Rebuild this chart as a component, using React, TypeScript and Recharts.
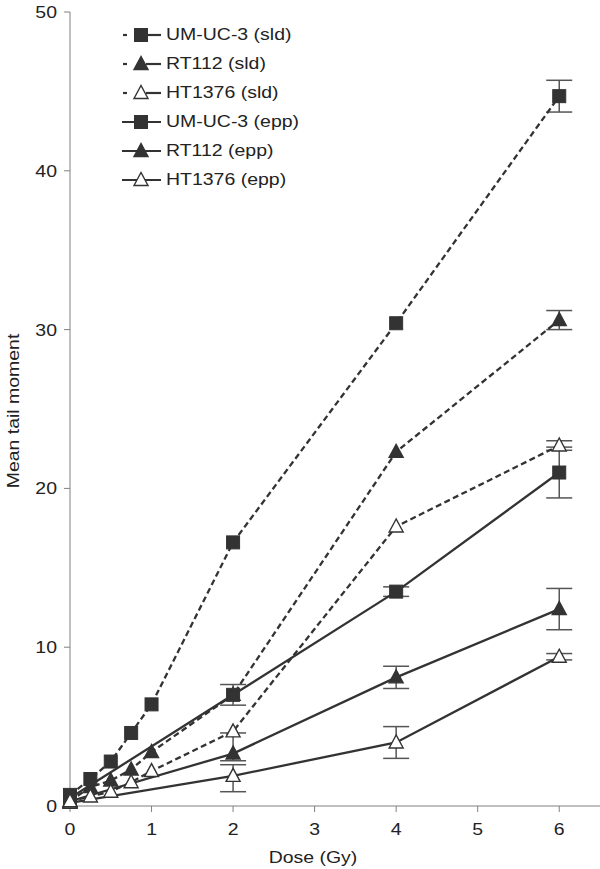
import React from 'react';
import { LineChart, Line, XAxis, YAxis, Legend, ErrorBar } from 'recharts';

// doses (Gy)
const sldDoses = [0, 0.25, 0.5, 0.75, 1, 2, 4, 6];
const eppDoses = [0, 2, 4, 6];

// mean tail moment values (error = SEM, number or [below, above])
const umucSld = [0.7, 1.7, 2.8, 4.6, 6.4, 16.6, 30.4, 44.7];
const umucSldErr = [0, 0, 0, 0, 0, 0, 0, 1.0];
const rt112Sld = [0.3, 1.2, 1.6, 2.3, 3.4, 7.0, 22.3, 30.6];
const rt112SldErr = [0, 0, 0, 0, 0, 0, 0, 0.6];
const ht1376Sld = [0.3, 0.6, 0.9, 1.5, 2.2, 4.7, 17.6, 22.7];
const ht1376SldErr = [0, 0, 0, 0, 0, 0, 0, 0.3];

const umucEpp = [0.5, 7.0, 13.5, 21.0];
const umucEppErr: (number | number[])[] = [0, 0.65, 0.3, 1.6];
const rt112Epp = [0.3, 3.3, 8.1, 12.4];
const rt112EppErr: (number | number[])[] = [0, [0.45, 1.3], 0.7, 1.3];
const ht1376Epp = [0.2, 1.9, 4.0, 9.4];
const ht1376EppErr: (number | number[])[] = [0, [1.0, 0.7], 1.0, 0.2];

const xTicks = [0, 1, 2, 3, 4, 5, 6];
const yTicks = [0, 10, 20, 30, 40, 50];

type Shape = 'square' | 'triangle' | 'openTriangle';

const makeSeries = (doses: number[], values: number[], errs: (number | number[])[]) =>
  doses.map((d, i) => ({ dose: d, value: values[i], err: errs[i] }));

const series = [
  { name: 'UM-UC-3 (sld)', data: makeSeries(sldDoses, umucSld, umucSldErr), shape: 'square' as Shape, dashed: true },
  { name: 'RT112 (sld)', data: makeSeries(sldDoses, rt112Sld, rt112SldErr), shape: 'triangle' as Shape, dashed: true },
  { name: 'HT1376 (sld)', data: makeSeries(sldDoses, ht1376Sld, ht1376SldErr), shape: 'openTriangle' as Shape, dashed: true },
  { name: 'UM-UC-3 (epp)', data: makeSeries(eppDoses, umucEpp, umucEppErr), shape: 'square' as Shape, dashed: false },
  { name: 'RT112 (epp)', data: makeSeries(eppDoses, rt112Epp, rt112EppErr), shape: 'triangle' as Shape, dashed: false },
  { name: 'HT1376 (epp)', data: makeSeries(eppDoses, ht1376Epp, ht1376EppErr), shape: 'openTriangle' as Shape, dashed: false },
];

// draw the solid (epp) series first so the dashed series' markers sit on top
const drawOrder = [...series.slice(3), ...series.slice(0, 3)];

const INK = '#333333';
const AXIS = '#808080';
const FONT = '"Liberation Sans", Arial, sans-serif';
const FONT_SIZE = 16.5;
const STRETCH = 1.18;

const Marker = ({ cx, cy, shape }: { cx: number; cy: number; shape: Shape }) => {
  if (cx == null || cy == null) return null;
  if (shape === 'square') {
    return <rect x={cx - 6.5} y={cy - 6.5} width={13} height={13} fill={INK} stroke={INK} strokeWidth={1} />;
  }
  const pts = `${cx},${cy - 7.5} ${cx - 7},${cy + 5.5} ${cx + 7},${cy + 5.5}`;
  return (
    <polygon
      points={pts}
      fill={shape === 'triangle' ? INK : '#ffffff'}
      stroke={INK}
      strokeWidth={1.4}
    />
  );
};

const YTick = (props: any) => {
  const { x, y, payload } = props;
  return (
    <text
      transform={`translate(${x - 5},${y}) scale(${STRETCH},1)`}
      textAnchor="end"
      dy={6}
      fontFamily={FONT}
      fontSize={FONT_SIZE}
      fill="#222"
    >
      {payload.value}
    </text>
  );
};

const XTick = (props: any) => {
  const { x, y, payload } = props;
  return (
    <text
      transform={`translate(${x},${y + 21}) scale(${STRETCH},1)`}
      textAnchor="middle"
      fontFamily={FONT}
      fontSize={FONT_SIZE}
      fill="#222"
    >
      {payload.value}
    </text>
  );
};

const renderLegend = () => (
  <div style={{ fontFamily: FONT, fontSize: FONT_SIZE, color: '#222' }}>
    {series.map((s) => (
      <div key={s.name} style={{ display: 'flex', alignItems: 'center', height: 29 }}>
        <svg width={48} height={20} style={{ display: 'block' }}>
          {s.dashed ? (
            <>
              <line x1={5} y1={10} x2={9} y2={10} stroke={INK} strokeWidth={2.2} />
              <line x1={28} y1={10} x2={43} y2={10} stroke={INK} strokeWidth={2.2} />
            </>
          ) : (
            <line x1={4} y1={10} x2={43} y2={10} stroke={INK} strokeWidth={2.2} />
          )}
          <Marker cx={23} cy={10} shape={s.shape} />
        </svg>
        <span style={{ display: 'inline-block', transform: `scaleX(${STRETCH})`, transformOrigin: 'left center', whiteSpace: 'nowrap' }}>
          {s.name}
        </span>
      </div>
    ))}
  </div>
);

export default function App() {
  return (
    <div style={{ position: 'absolute', left: 0, top: 0, width: 600, height: 869, background: '#fff' }}>
      <LineChart width={600} height={869} margin={{ top: 12, right: 0, bottom: 0, left: 0 }}>
        <XAxis
          dataKey="dose"
          type="number"
          domain={[0, 6.5]}
          ticks={xTicks}
          allowDuplicatedCategory={false}
          height={63}
          stroke={AXIS}
          tickSize={6}
          tick={<XTick />}
        />
        <YAxis
          type="number"
          domain={[0, 50]}
          ticks={yTicks}
          width={70}
          stroke={AXIS}
          tickSize={6}
          tick={<YTick />}
        />
        <Legend
          layout="vertical"
          align="center"
          verticalAlign="middle"
          content={renderLegend}
          wrapperStyle={{ position: 'absolute', left: 118, top: 20, width: 'auto', height: 'auto' }}
        />
        {drawOrder.map((s) => (
          <Line
            key={s.name}
            name={s.name}
            data={s.data}
            dataKey="value"
            type="linear"
            stroke={INK}
            strokeWidth={2.3}
            strokeDasharray={s.dashed ? '6 3.5' : undefined}
            isAnimationActive={false}
            dot={(p: any) => <Marker key={`${s.name}-${p.index}`} cx={p.cx} cy={p.cy} shape={s.shape} />}
            activeDot={false}
          >
            <ErrorBar dataKey="err" width={13} stroke="#555" strokeWidth={1.5} direction="y" isAnimationActive={false} />
          </Line>
        ))}
        <text
          transform={`translate(19,411) rotate(-90) scale(${STRETCH},1)`}
          textAnchor="middle"
          fontFamily={FONT}
          fontSize={FONT_SIZE}
          fill="#222"
        >
          Mean tail moment
        </text>
        <text
          transform={`translate(313,863) scale(${STRETCH},1)`}
          textAnchor="middle"
          fontFamily={FONT}
          fontSize={FONT_SIZE}
          fill="#222"
        >
          Dose (Gy)
        </text>
      </LineChart>
    </div>
  );
}
